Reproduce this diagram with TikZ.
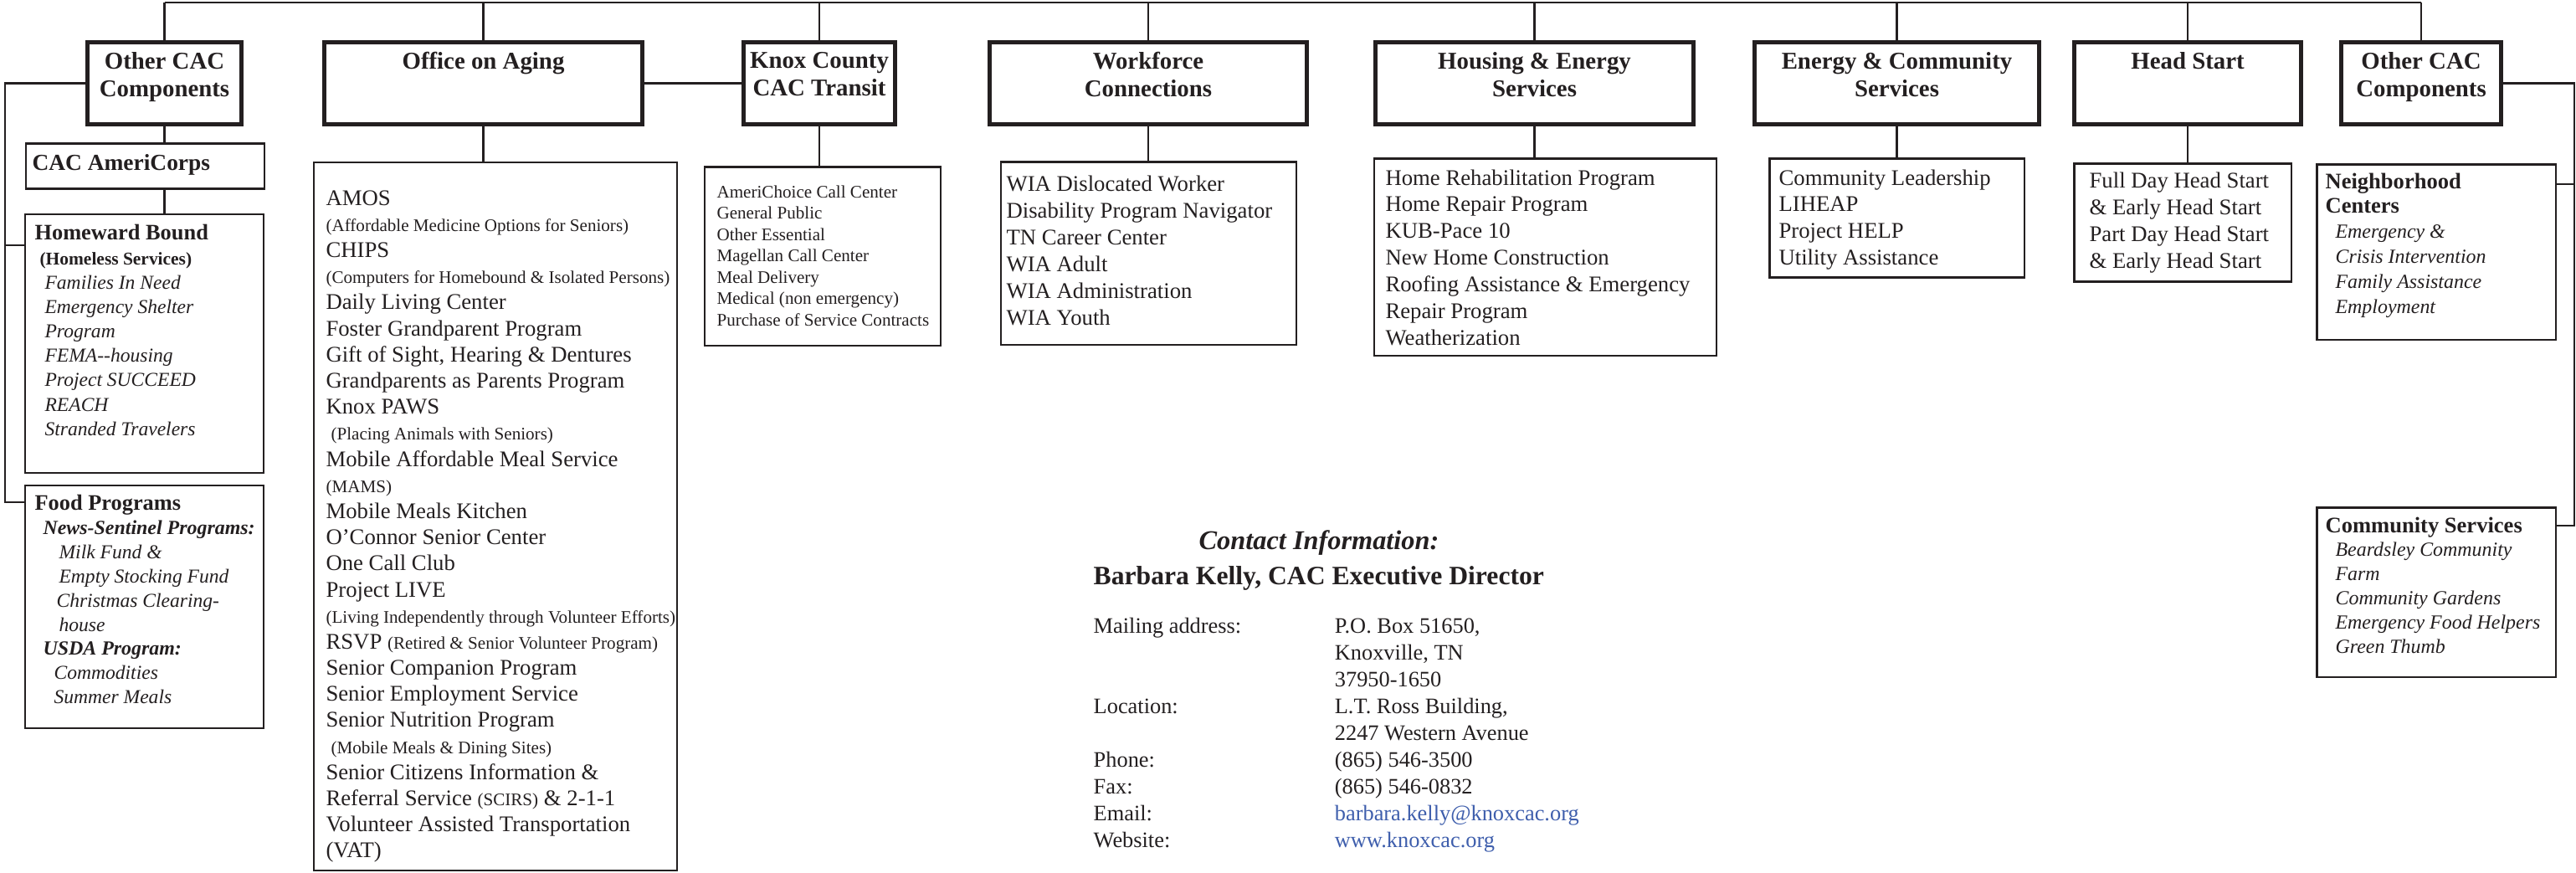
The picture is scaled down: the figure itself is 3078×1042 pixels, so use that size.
\documentclass[tikz,border=0pt]{standalone}
\usepackage{fontspec}
\setmainfont{Liberation Serif}
\usepackage{xcolor}
\usepackage{tikz}
\usetikzlibrary{calc,positioning}

\definecolor{ink}{HTML}{231F20}
\definecolor{weblink}{RGB}{62,94,172}
\newcommand\fsz[1]{\fontsize{#1}{#1}\selectfont}
\newcommand\lfont[2]{\fontsize{#1}{#2}\selectfont}

\begin{document}
\begin{tikzpicture}[x=0.01cm, y=-0.01cm,
    hdr/.style={draw=ink, line width=1.42pt, inner sep=0pt, minimum height=9.85mm},
    hdrtext/.style={align=center, inner sep=0pt, text=ink, font=\bfseries\lfont{8.2}{9.4}},
    listbox/.style={draw=ink, line width=0.75pt, inner sep=0pt},
    listtext/.style={align=left, inner sep=0pt, text=ink},
    link/.style={draw=ink, line width=0.6pt},
    topline/.style={draw=ink, line width=0.8pt}]
    \useasboundingbox (0,0) rectangle (3078,1042);

    % top row of headers
    \node [hdr, minimum width=18.4mm] (otherL) at (196.5,99.5) {};
    \node [hdrtext, below=1.4mm of otherL.north] (otherLT) {Other CAC\\Components};
    \node [hdr, minimum width=38mm] (aging) at (577.5,99.5) {};
    \node [hdrtext, below=1.4mm of aging.north] (agingT) {Office on Aging};
    \node [hdr, minimum width=18.1mm] (knox) at (979,99.5) {};
    \node [hdrtext, below=1.4mm of knox.north] (knoxT) {Knox County\\CAC Transit};
    \node [hdr, minimum width=37.9mm] (workforce) at (1372,99.5) {};
    \node [hdrtext, below=1.4mm of workforce.north] (workforceT) {Workforce\\Connections};
    \node [hdr, minimum width=38mm] (housing) at (1833.5,99.5) {};
    \node [hdrtext, below=1.4mm of housing.north] (housingT) {Housing \& Energy\\Services};
    \node [hdr, minimum width=34mm] (energy) at (2266.5,99.5) {};
    \node [hdrtext, below=1.4mm of energy.north] (energyT) {Energy \& Community\\Services};
    \node [hdr, minimum width=27.1mm] (headstart) at (2614,99.5) {};
    \node [hdrtext, below=1.4mm of headstart.north] (headstartT) {Head Start};
    \node [hdr, minimum width=19.1mm] (otherR) at (2893,99.5) {};
    \node [hdrtext, below=1.4mm of otherR.north] (otherRT) {Other CAC\\Components};

    % left column
    \node [listbox, minimum width=28.45mm, minimum height=5.45mm] (americorps) at (173.5,198.5) {};
    \node [listtext, below right=1.4mm and 0.8mm of americorps.north west, font=\bfseries\fsz{7.8}] (americorpsT) {CAC AmeriCorps};

    \node [listbox, minimum width=28.45mm, minimum height=30.85mm] (homeward) at (172.5,410.5) {};
    \node [listtext, below right=1.3mm and 1.2mm of homeward.north west, font=\lfont{6.7}{8.3}] (homewardT) {%
        {\bfseries\fsz{7.5}Homeward Bound}\\
        \hspace*{0.6mm}{\bfseries\fsz{6.1}(Homeless Services)}\\
        \hspace*{1.2mm}\textit{Families In Need}\\
        \hspace*{1.2mm}\textit{Emergency Shelter}\\
        \hspace*{1.2mm}\textit{Program}\\
        \hspace*{1.2mm}\textit{FEMA-{}-housing}\\
        \hspace*{1.2mm}\textit{Project SUCCEED}\\
        \hspace*{1.2mm}\textit{REACH}\\
        \hspace*{1.2mm}\textit{Stranded Travelers}};

    \node [listbox, minimum width=28.45mm, minimum height=28.95mm] (food) at (172.5,725) {};
    \node [listtext, below right=1.2mm and 1.2mm of food.north west, font=\lfont{6.7}{8.2}] (foodT) {%
        {\bfseries\fsz{7.5}Food Programs}\\
        \hspace*{1mm}{\bfseries\itshape\fsz{6.8}News-Sentinel Programs:}\\
        \hspace*{2.9mm}\textit{Milk Fund \&}\\
        \hspace*{2.9mm}\textit{Empty Stocking Fund}\\
        \hspace*{2.6mm}\textit{Christmas Clearing-}\\
        \hspace*{2.9mm}\textit{house}\\
        \hspace*{1mm}{\bfseries\itshape\fsz{6.8}USDA Program:}\\
        \hspace*{2.3mm}\textit{Commodities}\\
        \hspace*{2.3mm}\textit{Summer Meals}};

    % program lists
    \node [listbox, minimum width=43.35mm, minimum height=84.55mm] (agingList) at (592,617) {};
    \node [listtext, below right=3.4mm and 1.5mm of agingList.north west, font=\lfont{7.6}{8.87}] (agingListT) {%
        AMOS\\
        {\fsz{6}(Affordable Medicine Options for Seniors)}\\
        CHIPS\\
        {\fsz{6}(Computers for Homebound \& Isolated Persons)}\\
        Daily Living Center\\
        Foster Grandparent Program\\
        Gift of Sight, Hearing \& Dentures\\
        Grandparents as Parents Program\\
        Knox PAWS\\
        \hspace*{0.6mm}{\fsz{6}(Placing Animals with Seniors)}\\
        Mobile Affordable Meal Service\\
        {\fsz{6}(MAMS)}\\
        Mobile Meals Kitchen\\
        O’Connor Senior Center\\
        One Call Club\\
        Project LIVE\\
        {\fsz{6}(Living Independently through Volunteer Efforts)}\\
        RSVP {\fsz{6}(Retired \& Senior Volunteer Program)}\\
        Senior Companion Program\\
        Senior Employment Service\\
        Senior Nutrition Program\\
        \hspace*{0.6mm}{\fsz{6}(Mobile Meals \& Dining Sites)}\\
        Senior Citizens Information \&\\
        Referral Service {\fsz{6}(SCIRS)} \& 2-1-1\\
        Volunteer Assisted Transportation\\
        (VAT)};

    \node [listbox, minimum width=28.15mm, minimum height=21.35mm] (knoxList) at (983,306) {};
    \node [listtext, below right=2.3mm and 1.5mm of knoxList.north west, font=\lfont{6}{7.26}] (knoxListT) {%
        AmeriChoice Call Center\\General Public\\Other Essential\\Magellan Call Center\\%
        Meal Delivery\\Medical (non emergency)\\Purchase of Service Contracts};

    \node [listbox, minimum width=35.25mm, minimum height=21.85mm] (workforceList) at (1372.5,302.5) {};
    \node [listtext, below right=1.7mm and 0.7mm of workforceList.north west, font=\lfont{7.6}{9.1}] (workforceListT) {%
        WIA Dislocated Worker\\Disability Program Navigator\\TN Career Center\\%
        WIA Adult\\WIA Administration\\WIA Youth};

    \node [listbox, minimum width=40.85mm, minimum height=23.55mm] (housingList) at (1846.5,307) {};
    \node [listtext, below right=1.4mm and 1.4mm of housingList.north west, font=\lfont{7.6}{9.05}] (housingListT) {%
        Home Rehabilitation Program\\Home Repair Program\\KUB-Pace 10\\New Home Construction\\%
        Roofing Assistance \& Emergency\\Repair Program\\Weatherization};

    \node [listbox, minimum width=30.45mm, minimum height=14.25mm] (energyList) at (2266.5,260.5) {};
    \node [listtext, below right=1.4mm and 1.2mm of energyList.north west, font=\lfont{7.6}{9.05}] (energyListT) {%
        Community Leadership\\LIHEAP\\Project HELP\\Utility Assistance};

    \node [listbox, minimum width=25.95mm, minimum height=14.15mm] (headstartList) at (2608,266) {};
    \node [listtext, below right=1.1mm and 1.9mm of headstartList.north west, font=\lfont{7.6}{9.1}] (headstartListT) {%
        Full Day Head Start\\\& Early Head Start\\Part Day Head Start\\\& Early Head Start};

    % right column
    \node [listbox, minimum width=28.55mm, minimum height=20.95mm] (nbhd) at (2911,301) {};
    \node [listtext, below right=1.1mm and 1.1mm of nbhd.north west, font=\lfont{6.8}{8.48}] (nbhdT) {%
        {\bfseries\fsz{7.55}Neighborhood}\\
        {\bfseries\fsz{7.55}Centers}\\
        \hspace*{1.2mm}\textit{Emergency \&}\\
        \hspace*{1.2mm}\textit{Crisis Intervention}\\
        \hspace*{1.2mm}\textit{Family Assistance}\\
        \hspace*{1.2mm}\textit{Employment}};

    \node [listbox, minimum width=28.55mm, minimum height=20.25mm] (commSvc) at (2911,707.5) {};
    \node [listtext, below right=1.2mm and 1.1mm of commSvc.north west, font=\lfont{6.8}{8.2}] (commSvcT) {%
        {\bfseries\fsz{7.55}Community Services}\\
        \hspace*{1.2mm}\textit{Beardsley Community}\\
        \hspace*{1.2mm}\textit{Farm}\\
        \hspace*{1.2mm}\textit{Community Gardens}\\
        \hspace*{1.2mm}\textit{Emergency Food Helpers}\\
        \hspace*{1.2mm}\textit{Green Thumb}};

    % connectors
    \coordinate (top) at (0,3);
    \coordinate (lrail) at (6,600);
    \coordinate (rrail) at (3076,628);
    \draw [topline] (otherL.north |- top) -- (otherR.north |- top);
    \draw [link] (otherL.north) -- (otherL.north |- top);
    \draw [link] (aging.north) -- (aging.north |- top);
    \draw [link] (knox.north) -- (knox.north |- top);
    \draw [link] (workforce.north) -- (workforce.north |- top);
    \draw [link] (housing.north) -- (housing.north |- top);
    \draw [link] (energy.north) -- (energy.north |- top);
    \draw [link] (headstart.north) -- (headstart.north |- top);
    \draw [link] (otherR.north) -- (otherR.north |- top);
    \draw [link] (aging.east) -- (knox.west);

    \draw [link] (otherL.south) -- (otherL.south |- americorps.north);
    \draw [link] (americorps.south -| otherL.south) -- (homeward.north -| otherL.south);
    \draw [link] (otherL.west) -| (lrail) -- (lrail -| food.west);
    \draw [link] (lrail |- 0,293) -- (homeward.west |- 0,293);

    \draw [link] (aging.south) -- (aging.south |- agingList.north);
    \draw [link] (knox.south) -- (knox.south |- knoxList.north);
    \draw [link] (workforce.south) -- (workforce.south |- workforceList.north);
    \draw [link] (housing.south) -- (housing.south |- housingList.north);
    \draw [link] (energy.south) -- (energy.south |- energyList.north);
    \draw [link] (headstart.south) -- (headstart.south |- headstartList.north);

    \draw [link] (otherR.east) -| (rrail) -- (rrail -| commSvc.east);
    \draw [link] (rrail |- 0,220) -- (nbhd.east |- 0,220);

    % contact block
    \node [anchor=base, inner sep=0pt, text=ink, font=\bfseries\itshape\fsz{9.2}] (contactHead) at (1576,656) {Contact Information:};
    \node [anchor=base west, inner sep=0pt, text=ink, font=\bfseries\fsz{9}] (director) at (1306,698) {Barbara Kelly, CAC Executive Director};
    \node [anchor=north west, inner sep=0pt, text=ink, font=\lfont{7.5}{9.1}] (contactTab) at (1306,733) {%
        \begin{tabular}{@{}p{28.8mm}@{}l@{}}
        Mailing address: & P.O. Box 51650,\\
         & Knoxville, TN\\
         & 37950-1650\\
        Location: & L.T. Ross Building,\\
         & 2247 Western Avenue\\
        Phone: & (865) 546-3500\\
        Fax: & (865) 546-0832\\
        Email: & \textcolor{weblink}{barbara.kelly@knoxcac.org}\\
        Website: & \textcolor{weblink}{www.knoxcac.org}
        \end{tabular}};
\end{tikzpicture}
\end{document}
